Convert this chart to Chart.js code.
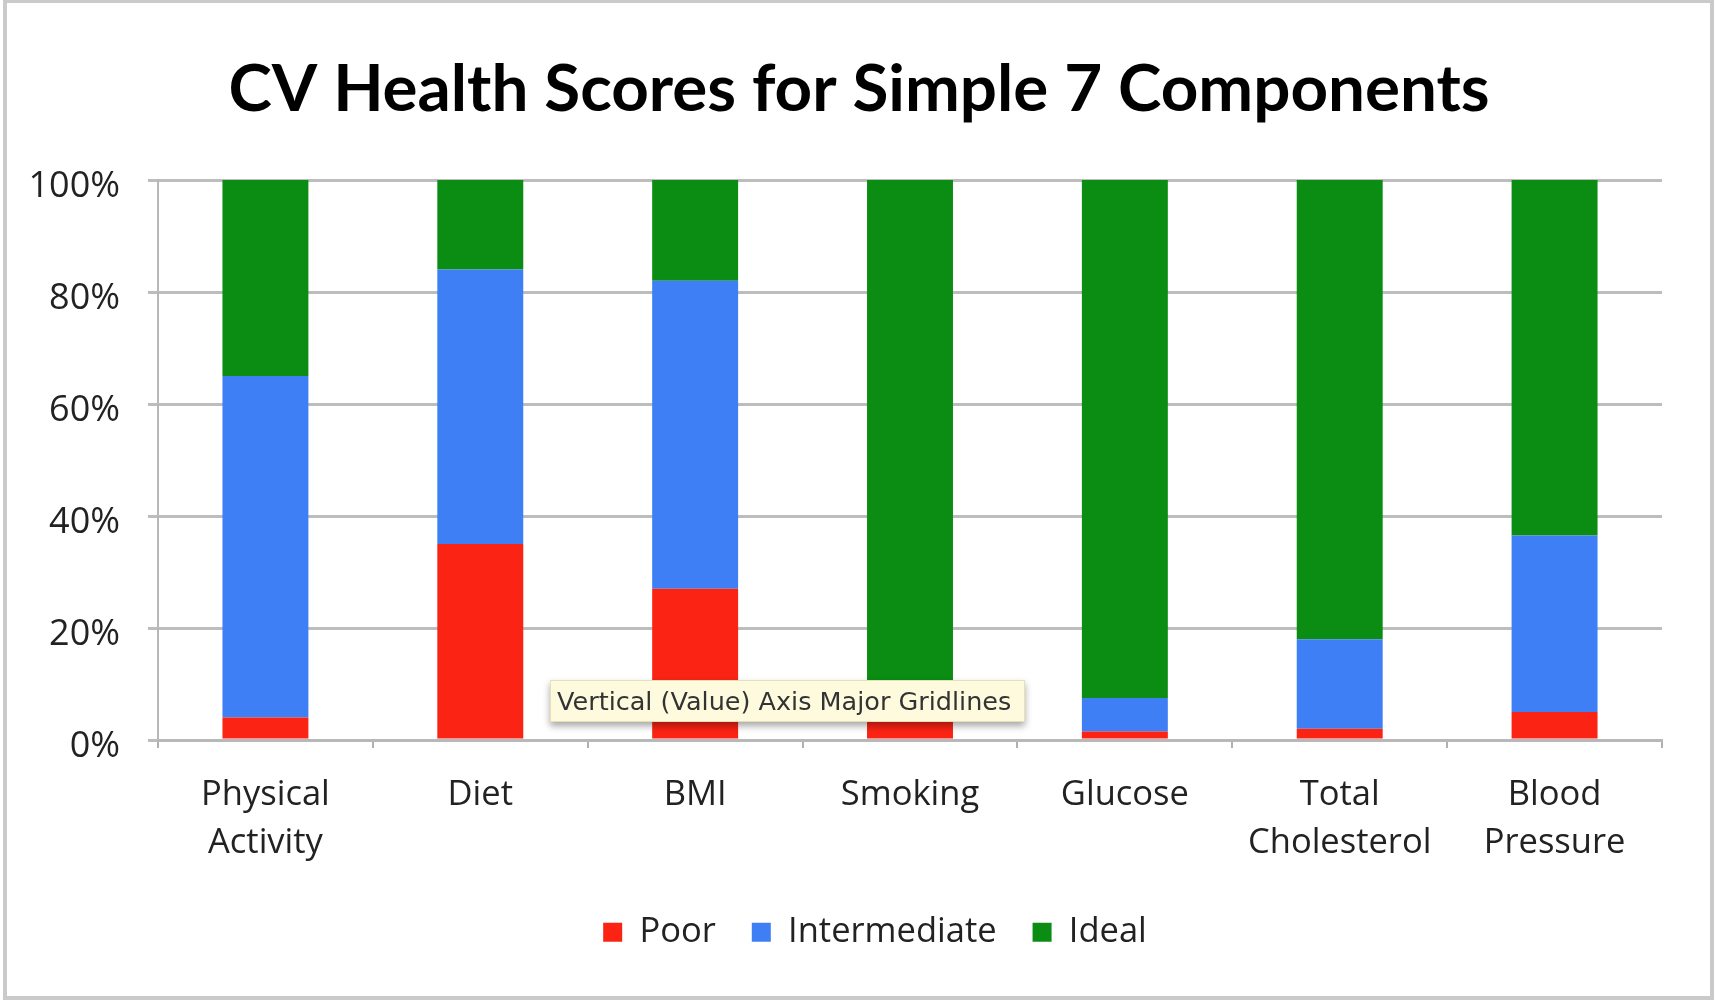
<!DOCTYPE html>
<html>
<head>
<meta charset="utf-8">
<script src="https://cdn.jsdelivr.net/npm/chart.js@4.4.1/dist/chart.umd.min.js"></script>
<style>
  html, body { margin: 0; padding: 0; background: #ffffff; }
  #wrap { position: relative; width: 1714px; height: 1000px; overflow: hidden; background: #fff; }
  #c { position: absolute; left: 0; top: 0; }
  #frame { position: absolute; left: 3px; top: -1px; width: 1703px; height: 993px;
           border: 4px solid #cacaca; pointer-events: none; }
  #hint { position: absolute; left: 550px; top: 680px; width: 475px; height: 42px; box-sizing: border-box;
          background: #fdfade; border: 1px solid #e6e0b8; box-shadow: 0 4px 7px rgba(0,0,0,0.35);
          font-family: "DejaVu Sans", sans-serif; font-size: 25.5px; color: #333; line-height: 40px;
          padding-left: 6px; white-space: nowrap; }
</style>
</head>
<body>
<div id="wrap">
  <canvas id="c" width="1714" height="1000"></canvas>
  <div id="hint">Vertical (Value) Axis Major Gridlines</div>
  <div id="frame"></div>
</div>
<script>
// Simple 7 components and share of people in each score band (%)
const categories = [['Physical', 'Activity'], 'Diet', 'BMI', 'Smoking', 'Glucose', ['Total', 'Cholesterol'], ['Blood', 'Pressure']];
const poor         = [4, 35, 27, 9, 1.5, 2, 5];
const intermediate = [61, 49, 55, 0, 6, 16, 31.5];
const ideal        = [35, 16, 18, 91, 92.5, 82, 63.5];
const yTicks = [0, 20, 40, 60, 80, 100];

const seriesNames  = ['Poor', 'Intermediate', 'Ideal'];
const seriesColors = ['#fb2314', '#3f7ff6', '#0b8c12'];

const labelFont = { family: '"Open Sans", sans-serif', size: 34.5 };

// nudges the legend row a little to the right of the centred position
const legendShift = {
  id: 'legendShift',
  afterLayout(chart) {
    const lg = chart.legend;
    if (!lg) return;
    lg.left += 16; lg.right += 16;
    lg.legendHitBoxes.forEach(b => { b.left += 16; });
  }
};

const chart = new Chart(document.getElementById('c'), {
  type: 'bar',
  data: {
    labels: categories,
    datasets: [poor, intermediate, ideal].map((vals, i) => ({
      label: seriesNames[i],
      data: vals,
      backgroundColor: seriesColors[i],
      borderWidth: 0,
      barPercentage: 0.8,
      categoryPercentage: 0.5
    }))
  },
  plugins: [legendShift],
  options: {
    responsive: false,
    animation: false,
    events: [],
    layout: { padding: { left: 12, right: 8, top: 0, bottom: 40.5 } },
    plugins: {
      tooltip: { enabled: false },
      title: {
        display: true,
        text: 'CV Health Scores for Simple 7 Components',
        color: '#000',
        font: { family: 'Lato, sans-serif', size: 65.5, weight: 'bold', lineHeight: 1.2 },
        padding: { top: 50.3, bottom: 51.1 }
      },
      legend: {
        position: 'bottom',
        labels: {
          color: '#222',
          font: labelFont,
          boxWidth: 19,
          boxHeight: 19,
          padding: 36
        }
      }
    },
    scales: {
      x: {
        stacked: true,
        grid: { offset: true, drawOnChartArea: false, drawTicks: true, tickLength: 8, color: '#b0b0b0', lineWidth: 2 },
        border: { display: true, color: '#b8b8b8', width: 3 },
        ticks: { color: '#222', font: { ...labelFont, lineHeight: 1.39 }, padding: 23.5, maxRotation: 0, autoSkip: false },
        afterFit: (s) => { s.height = 139; }
      },
      y: {
        stacked: true,
        min: 0,
        max: 100,
        afterBuildTicks: (s) => { s.ticks = yTicks.map(v => ({ value: v })); },
        grid: { color: '#bdbdbd', lineWidth: 3, tickLength: 10 },
        border: { display: true, color: '#b8b8b8', width: 2 },
        ticks: { color: '#222', font: { ...labelFont, size: 36 }, padding: 28, labelOffset: 7, callback: (v) => v + '%' },
        afterFit: (s) => { s.width = 146; }
      },
      // empty right-hand margin beside the plot
      yRight: {
        axis: 'y',
        position: 'right',
        display: true,
        grid: { display: false },
        border: { display: false },
        ticks: { display: false },
        afterFit: (s) => { s.width = 44; }
      }
    }
  }
});
</script>
</body>
</html>
